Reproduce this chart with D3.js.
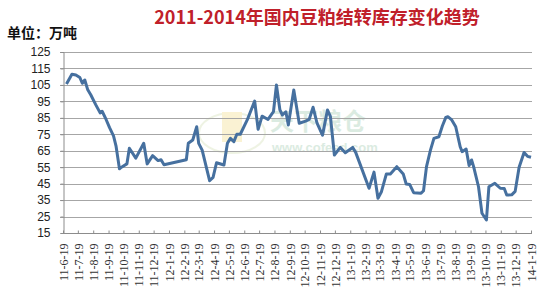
<!DOCTYPE html>
<html><head><meta charset="utf-8">
<script src="https://cdn.jsdelivr.net/npm/d3@7"></script>
<style>html,body{margin:0;padding:0;background:#fff;}svg{display:block;}</style>
</head><body>
<svg id="c" width="550" height="300"></svg>
<script>
const title = "2011-2014年国内豆粕结转库存变化趋势";
const unitLabel = "单位：万吨";
const yTicks = [15, 25, 35, 45, 55, 65, 75, 85, 95, 105, 115, 125];
const xTickLabels = ["11-6-19","11-7-19","11-8-19","11-9-19","11-10-19","11-11-19","11-12-19",
  "12-1-19","12-2-19","12-3-19","12-4-19","12-5-19","12-6-19","12-7-19","12-8-19","12-9-19",
  "12-10-19","12-11-19","12-12-19","13-1-19","13-2-19","13-3-19","13-4-19","13-5-19","13-6-19",
  "13-7-19","13-8-19","13-9-19","13-10-19","13-11-19","13-12-19","14-1-19"];
const dates = ["2011-06-26","2011-07-07","2011-07-15","2011-07-23","2011-07-28","2011-08-02","2011-08-08","2011-08-14",
  "2011-08-24","2011-09-02","2011-09-06","2011-09-14","2011-09-21","2011-09-29","2011-10-04","2011-10-11","2011-10-15",
  "2011-10-26","2011-10-31","2011-11-13","2011-11-29","2011-12-06","2011-12-17","2011-12-28","2012-01-03","2012-01-09",
  "2012-02-23","2012-02-27","2012-03-07","2012-03-15","2012-03-19","2012-03-26","2012-04-10","2012-04-17","2012-04-24",
  "2012-05-09","2012-05-16","2012-05-22","2012-05-29","2012-06-04","2012-06-11","2012-06-25","2012-07-10","2012-07-17",
  "2012-07-25","2012-08-06","2012-08-17","2012-08-23","2012-08-30","2012-09-04","2012-09-11","2012-09-16","2012-09-27",
  "2012-10-08","2012-10-21","2012-10-28","2012-11-05","2012-11-13","2012-11-24","2012-12-04","2012-12-10","2012-12-18",
  "2012-12-30","2013-01-09","2013-01-24","2013-01-30","2013-02-26","2013-03-08","2013-03-16","2013-03-23","2013-04-02",
  "2013-04-10","2013-04-23","2013-05-06","2013-05-12","2013-05-19","2013-05-27","2013-06-11","2013-06-16","2013-06-22",
  "2013-06-30","2013-07-07","2013-07-17","2013-07-24","2013-07-31","2013-08-04","2013-08-12","2013-08-20","2013-08-29",
  "2013-09-02","2013-09-10","2013-09-16","2013-09-21","2013-09-25","2013-10-05","2013-10-12","2013-10-21","2013-10-26",
  "2013-11-07","2013-11-18","2013-11-26","2013-12-01","2013-12-11","2013-12-18","2013-12-26","2014-01-05","2014-01-12",
  "2014-01-19"];
const stocks = [105.5,111.5,111,109.5,106,108,102,99,
  93,88,89,84,79,74,68,54,55,
  57,66.5,60.5,69.5,57,62,59,59.5,56.5,
  59.5,69.5,71.5,79.6,69.5,65.4,46.8,48.8,57.7,
  56.3,69.5,72.5,70.5,75,75,83.7,95.2,78,
  86,84,88.7,105,89.8,86.7,88.7,80.6,101.9,
  81.7,83,84,91.4,81.7,74.5,89.8,85.7,62.4,
  67,63.8,67,64,42.2,52,36.1,40.1,50.9,
  50.9,55.3,50.9,44.8,44.5,39.5,39.2,40.7,55.3,
  65.4,72.5,73.5,80,85.3,85.7,83.7,79.6,67.4,
  64.4,66,56,59.4,55.5,43.1,27,22.9,43.1,
  45.2,42.2,42.1,38.1,38.2,40.3,55,63.9,61.6,
  61];

const svg = d3.select("#c");
const parse = d3.timeParse("%Y-%m-%d");
const m = {left: 63, right: 532, top: 52, bottom: 233};

const tickDates = xTickLabels.map(s => {
  const [yy, mm, dd] = s.split("-").map(Number);
  return new Date(2000 + yy, mm - 1, dd);
});
const x = d3.scaleTime().domain([tickDates[0], tickDates[tickDates.length - 1]]).range([m.left, 531]);
const y = d3.scaleLinear().domain([15, 125]).range([m.bottom, m.top]);

// watermark
const wm = svg.append("g").attr("opacity", 0.5);
wm.append("ellipse").attr("cx", 232).attr("cy", 133).attr("rx", 33).attr("ry", 20)
  .attr("fill", "none").attr("stroke", "#dfe8c8").attr("stroke-width", 2);
wm.append("rect").attr("x", 222).attr("y", 112).attr("width", 20).attr("height", 30)
  .attr("fill", "#f7e6a8");
wm.append("text").attr("x", 270).attr("y", 130).attr("font-family", "Noto Sans CJK SC")
  .attr("font-weight", "bold").attr("font-size", 24).attr("fill", "#b9d9c4").text("天下粮仓");
wm.append("text").attr("x", 272).attr("y", 152).attr("font-family", "Liberation Sans")
  .attr("font-weight", "bold").attr("font-size", 13).attr("fill", "#b9d9c4").text("www.cofeed.com");

// gridlines
svg.append("g").selectAll("line").data(yTicks.slice(1)).join("line")
  .attr("x1", m.left - 3).attr("x2", m.right)
  .attr("y1", d => Math.round(y(d)) + 0.5).attr("y2", d => Math.round(y(d)) + 0.5)
  .attr("stroke", "#a6a6a6").attr("stroke-width", 1);

// y axis
const yAxis = d3.axisLeft(y).tickValues(yTicks).tickSize(3).tickPadding(10);
const ga = svg.append("g").attr("transform", `translate(${m.left + 0.5},0)`).call(yAxis);
ga.select(".domain").attr("stroke", "#8c8c8c");
ga.selectAll(".tick line").attr("stroke", "#8c8c8c");
ga.selectAll("text").attr("font-family", "Liberation Sans").attr("font-size", 12).attr("fill", "#222");

// x axis
const xAxis = d3.axisBottom(x).tickValues(tickDates).tickSize(-3).tickFormat((d, i) => xTickLabels[i]);
const gx = svg.append("g").attr("transform", `translate(0,${Math.round(y(15)) + 0.5})`).call(xAxis);
gx.select(".domain").attr("stroke", "#8c8c8c").attr("d", `M${m.left},0H${m.right}`);
gx.selectAll(".tick line").attr("stroke", "#8c8c8c");
gx.selectAll("text")
  .attr("font-family", "Liberation Serif").attr("font-size", 12).attr("fill", "#333")
  .attr("text-anchor", "end")
  .attr("transform", "translate(0,10) rotate(-90)")
  .attr("x", 0).attr("y", 0).attr("dy", "0.35em");

// line
const line = d3.line().x(d => x(d[0])).y(d => y(d[1]));
svg.append("path").datum(dates.map((d, i) => [parse(d), stocks[i]]))
  .attr("d", line).attr("fill", "none").attr("stroke", "#46709f")
  .attr("stroke-width", 3).attr("stroke-linejoin", "round");

// titles
svg.append("text").attr("x", 317).attr("y", 24).attr("text-anchor", "middle")
  .attr("font-family", "Noto Sans CJK SC").attr("font-weight", "bold").attr("font-size", 18)
  .attr("fill", "#c0202a").text(title);
svg.append("text").attr("x", 7).attr("y", 38)
  .attr("font-family", "Noto Sans CJK SC").attr("font-weight", "bold").attr("font-size", 14)
  .attr("fill", "#111").text(unitLabel);
</script>
</body></html>
